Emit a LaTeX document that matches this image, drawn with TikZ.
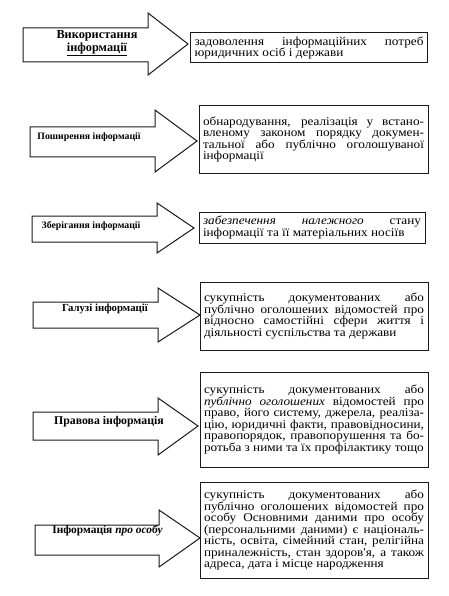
\documentclass[tikz,border=0pt]{standalone}
\usepackage{fontspec}
\setmainfont{Liberation Serif}
\newfontfamily\widserif{Liberation Serif}[FakeStretch=1.1]
\usepackage{tikz}

\begin{document}
\begin{tikzpicture}[
  x=1pt, y=-1pt,
  bigarrow/.style={draw=black!90, line width=1pt, line join=miter},
  infobox/.style={draw=black!90, line width=1pt, align=justify,
                  inner xsep=4pt, inner ysep=2pt,
                  font=\widserif\fontsize{12pt}{11.5pt}\selectfont},
  lbl/.style={font=\bfseries\fontsize{#1}{13pt}\selectfont, align=center, inner sep=0pt},
  lbl/.default=12.3pt
]
  \useasboundingbox (0,0) rectangle (449,596);

  \draw[bigarrow] (23,28) -- (148,28) -- (148,13) -- (188,44) -- (148,75) -- (148,62) -- (23,62) -- cycle;
  \draw[bigarrow] (30,127) -- (155,127) -- (155,110) -- (197,141) -- (155,172) -- (155,157) -- (30,157) -- cycle;
  \draw[bigarrow] (32,216) -- (157,216) -- (157,203) -- (194,228) -- (157,253) -- (157,242) -- (32,242) -- cycle;
  \draw[bigarrow] (33,302) -- (158,302) -- (158,288) -- (200,315) -- (158,342) -- (158,328) -- (33,328) -- cycle;
  \draw[bigarrow] (33,412) -- (158,412) -- (158,398) -- (198,426) -- (158,455) -- (158,440) -- (33,440) -- cycle;
  \draw[bigarrow] (35,525) -- (159,525) -- (159,510) -- (200,538) -- (159,567) -- (159,555) -- (35,555) -- cycle;

  \node[lbl]        (use)    at (97,43)    {Використання\\\underline{інформації}};
  \node[lbl=9.8pt]  (spread) at (89,137)   {Поширення інформації};
  \node[lbl=9.8pt]  (store)  at (91,226)   {Зберігання інформації};
  \node[lbl=10.8pt] (branch) at (105,309)  {Галузі інформації};
  \node[lbl=11.8pt] (legal)  at (109,422)  {Правова інформація};
  \node[lbl=11.4pt] (person) at (107.5,531) {Інформація \textit{про особу}};

  \node[infobox, text width=229pt, minimum height=30pt] (usebox) at (309,48)
    {задоволення інформаційних потреб\linebreak юридичних осіб і держави};
  \node[infobox, text width=221pt, minimum height=67pt] (spreadbox) at (313.5,139.5)
    {обнародування, реалізація у встано-\linebreak вленому законом порядку докумен-\linebreak тальної або публічно оголошуваної\linebreak інформації};
  \node[infobox, text width=218pt, minimum height=31pt] (storebox) at (312,227.5)
    {\textit{забезпечення належного} стану\linebreak інформації та її матеріальних носіїв};
  \node[infobox, text width=220pt, minimum height=68pt] (branchbox) at (314,316)
    {сукупність документованих або\linebreak публічно оголошених відомостей про\linebreak відносно самостійні сфери життя і\linebreak діяльності суспільства та держави};
  \node[infobox, text width=220pt, minimum height=95pt] (legalbox) at (314,419.5)
    {сукупність документованих або\linebreak \textit{публічно оголошених} відомостей про\linebreak право, його систему, джерела, реаліза-\linebreak цію, юридичні факти, правовідносини,\linebreak правопорядок, правопорушення та бо-\linebreak ротьба з ними та їх профілактику тощо};
  \node[infobox, text width=220pt, minimum height=96pt] (personbox) at (314,530)
    {сукупність документованих або\linebreak публічно оголошених відомостей про\linebreak особу Основними даними про особу\linebreak (персональними даними) є національ-\linebreak ність, освіта, сімейний стан, релігійна\linebreak приналежність, стан здоров'я, а також\linebreak адреса, дата і місце народження};
\end{tikzpicture}
\end{document}
